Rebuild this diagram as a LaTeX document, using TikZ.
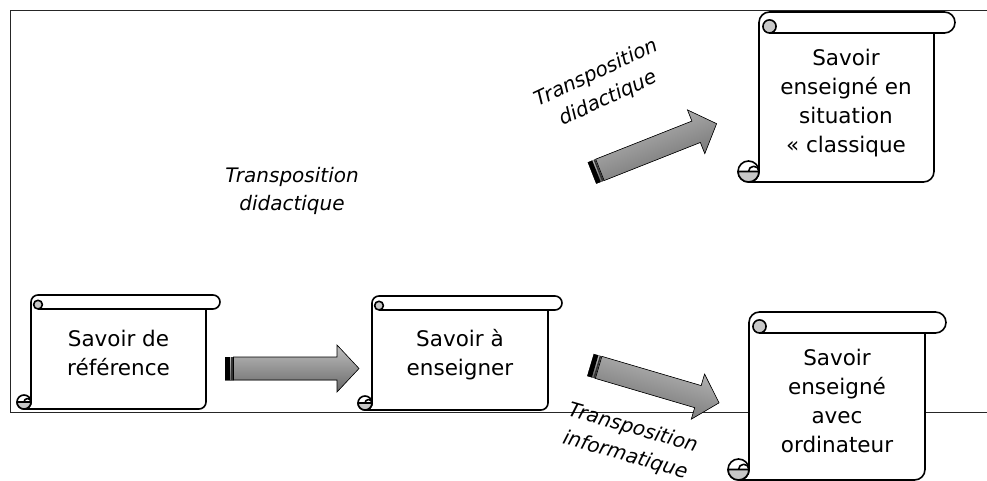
\documentclass[tikz,border=0pt]{standalone}
\usepackage{fontspec}
\setmainfont{DejaVu Sans}
\definecolor{arrtop}{RGB}{190,190,190}
\definecolor{arrbot}{RGB}{105,105,105}
\definecolor{curlgray}{RGB}{200,200,200}
\tikzset{
  frameline/.style={line width=1pt, draw=black!85},
  scrollline/.style={line width=1.6pt, draw=black, line join=round},
  scrolltext/.style={font=\fontsize{21.5}{29}\selectfont, align=center, inner sep=0pt},
  labeltext/.style={font=\fontsize{20}{28}\selectfont\itshape, align=center, inner sep=0pt},
  arrowbody/.style={draw=black, line width=0.6pt, line join=miter},
}
\newcommand\drawscroll[8]{%
  \pgfmathsetmacro\hh{#6/2}%
  \pgfmathsetmacro\qq{#6/3.2}%
  \pgfmathsetmacro\xA{#2+#6}%
  \pgfmathsetmacro\xB{#4-#6}%
  \pgfmathsetmacro\xC{#4-\hh}%
  \pgfmathsetmacro\xD{#2+\hh}%
  \pgfmathsetmacro\xE{\xA+\hh}%
  \pgfmathsetmacro\yA{#3+\hh}%
  \pgfmathsetmacro\yB{#3+#6}%
  \pgfmathsetmacro\yC{#5-\hh}%
  \pgfmathsetmacro\yE{\yB-\qq}%
  \filldraw[scrollline, fill=white] (\xA,\yA) arc[start angle=180,end angle=270,radius=\hh]
    -- (\xC,#3) arc[start angle=-90,end angle=90,radius=\hh]
    -- (\xB,\yB) -- (\xB,\yC) arc[start angle=0,end angle=90,radius=\hh]
    -- (\xD,#5) arc[start angle=90,end angle=0,radius=\hh] -- cycle;
  \filldraw[scrollline, fill=white] (\xD,\yC) circle[radius=\hh];
  \filldraw[scrollline, fill=curlgray] (\xA,\yC) arc[start angle=0,end angle=180,radius=\hh] -- cycle;
  \draw[scrollline] (\xD,\yC) arc[start angle=180,end angle=360,radius=\hh/2];
  \filldraw[scrollline, fill=curlgray] (\xE,\yE) circle[radius=\qq];
  \draw[scrollline] (\xE,\yB) -- (\xC,\yB);
  \node[scrolltext] (#1) at (#7) {#8};
}
\newcommand\blockarrow[2]{%
  \begin{scope}[shift={(#1)}, rotate=#2]
    \fill[top color=arrtop, bottom color=arrbot, shading angle=#2] (0,-11.5) rectangle (8.5,11.5);
    \fill[black] (0,-11.5) rectangle (4.8,11.5);
    \fill[black!80] (6.3,-11.5) rectangle (7.9,11.5);
    \filldraw[arrowbody, top color=arrtop, bottom color=arrbot, shading angle=#2]
      (8.5,-11.5) -- (112,-11.5) -- (112,-23.5) -- (134,0) -- (112,23.5) -- (112,11.5) -- (8.5,11.5) -- cycle;
  \end{scope}}
\begin{document}
\begin{tikzpicture}[x=1pt, y=-1pt]
  \useasboundingbox (0,0) rectangle (987,481);
  \draw[frameline] (987,11) -- (10,11) -- (10,412) -- (987,412);
  % arrows
  \coordinate (tA) at (225,368.5);
  \coordinate (tB) at (592,173);
  \coordinate (tC) at (590.5,365);
  \blockarrow{tA}{0}
  \blockarrow{tB}{21.6}
  \blockarrow{tC}{-16.4}
  % labels
  \node[labeltext] (l1) at (292,191) {Transposition\\didactique};
  \node[labeltext, rotate=25] (l2) at (602,86) {Transposition\\didactique};
  \node[labeltext, rotate=-16] (l3) at (629,442) {Transposition\\informatique};
  % scrolls
  \drawscroll{s1}{17}{295}{220}{409}{14}{118.5,353}{Savoir de\\référence}
  \drawscroll{s2}{358}{296}{562}{410}{14}{460,355}{Savoir à\\enseigner}
  \drawscroll{s3}{738}{12}{955}{182}{21}{846,103.5}{Savoir\\enseigné en\\situation\\« classique}
  \drawscroll{s4}{728}{312}{946}{480}{21}{837,400.5}{Savoir\\enseigné\\avec\\ordinateur}
\end{tikzpicture}
\end{document}
